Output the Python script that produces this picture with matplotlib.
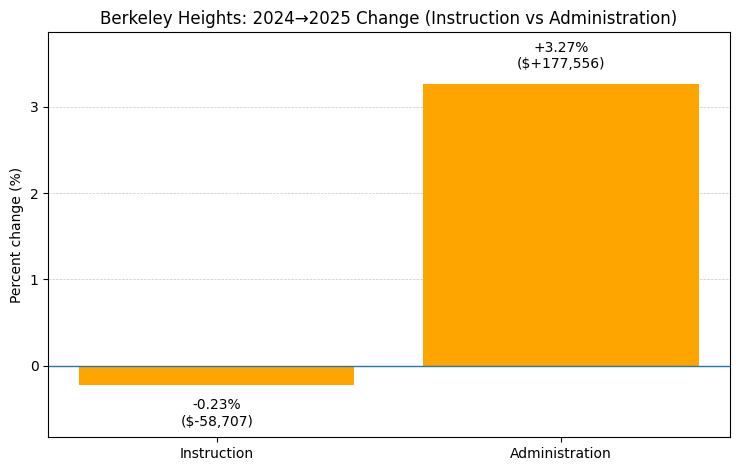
import matplotlib
matplotlib.use('Agg')
import matplotlib.pyplot as plt

# Daten
categories = ['Instruction', 'Administration']
pct_change = [-0.23, 3.27]
dollar_change = [-58707, 177556]

fig, ax = plt.subplots(figsize=(7.4, 4.7), dpi=100)
bars = ax.bar(categories, pct_change, color='orange', width=0.8)
ax.axhline(0, color='C0', linewidth=1)

# Beschriftungen an den Balken
for bar, p, d in zip(bars, pct_change, dollar_change):
    x = bar.get_x() + bar.get_width() / 2
    if p >= 0:
        ax.text(x, p + 0.15, f'{p:+.2f}%\n(${d:+,})', ha='center', va='bottom', fontsize=10)
    else:
        ax.text(x, p - 0.15, f'{p:+.2f}%\n(${d:+,})', ha='center', va='top', fontsize=10)

ax.set_ylim(min(pct_change) - 0.6, max(pct_change) + 0.6)
ax.set_ylabel('Percent change (%)')
ax.set_title('Berkeley Heights: 2024\u21922025 Change (Instruction vs Administration)')
ax.grid(True, axis='y', linestyle='--', linewidth=0.5, alpha=0.7)
ax.set_axisbelow(True)

fig.subplots_adjust(left=0.065, right=0.986, top=0.932, bottom=0.07)
fig.savefig('out.png', dpi=100)
